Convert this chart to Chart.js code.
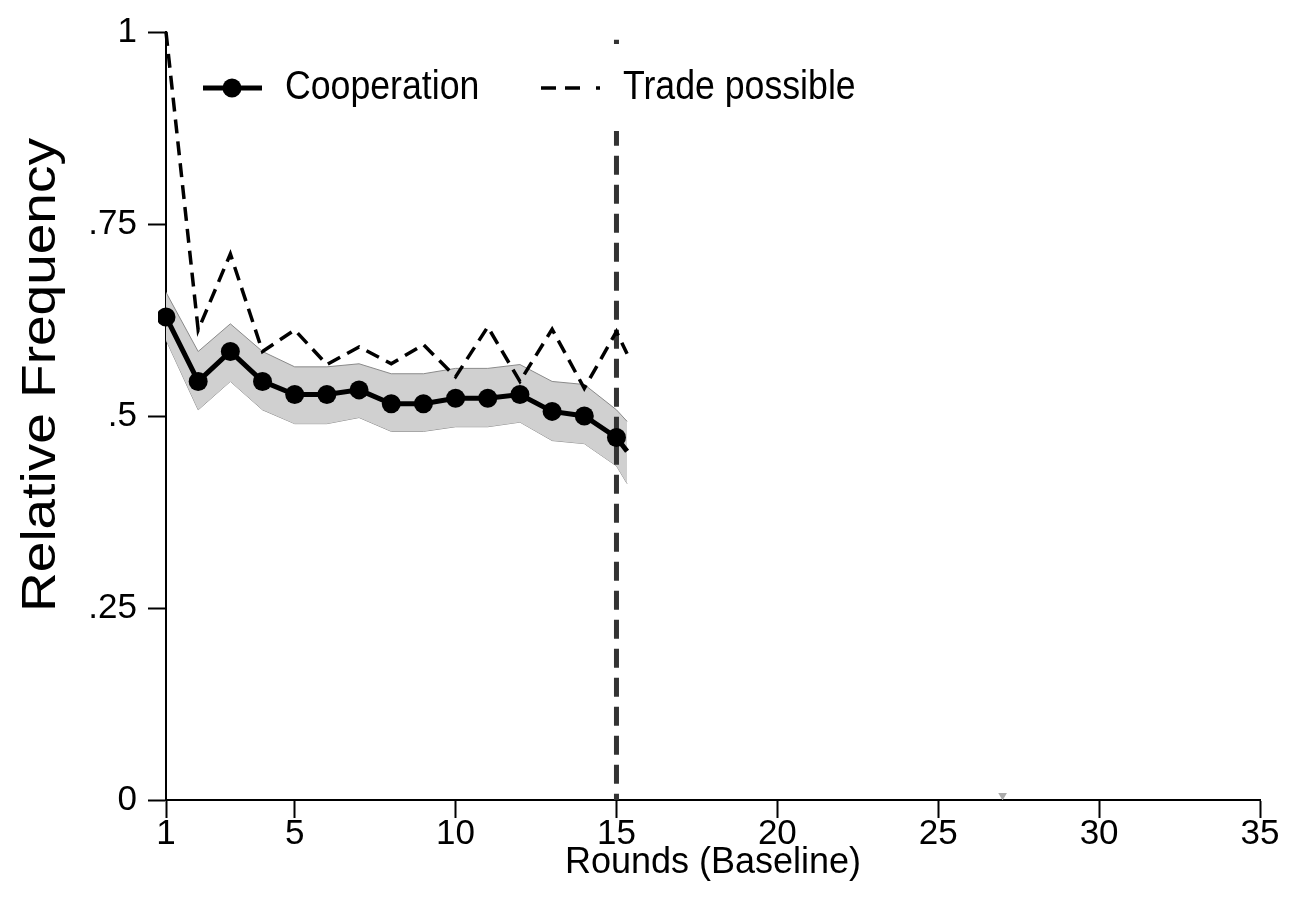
<!DOCTYPE html>
<html>
<head>
<meta charset="utf-8">
<script src="https://cdn.jsdelivr.net/npm/chart.js@4.4.1/dist/chart.umd.min.js"></script>
<style>
  html, body { margin: 0; padding: 0; background: #fff; }
  #wrap { width: 1289px; height: 915px; position: relative; }
</style>
</head>
<body>
<div id="wrap"><canvas id="chart" width="1289" height="915"></canvas></div>
<script>
// Datos
const rounds = [1, 2, 3, 4, 5, 6, 7, 8, 9, 10, 11, 12, 13, 14, 15, 15.33];
const cooperation = [0.629, 0.545, 0.584, 0.545, 0.528, 0.528, 0.534, 0.516, 0.516, 0.523, 0.523, 0.528, 0.506, 0.500, 0.472, 0.454];
const ciUpper = [0.661, 0.584, 0.620, 0.584, 0.564, 0.564, 0.568, 0.555, 0.555, 0.562, 0.562, 0.567, 0.545, 0.541, 0.508, 0.493];
const ciLower = [0.599, 0.508, 0.545, 0.508, 0.490, 0.490, 0.498, 0.480, 0.480, 0.486, 0.486, 0.492, 0.468, 0.464, 0.435, 0.412];
const tradePossible = [1.0, 0.612, 0.711, 0.584, 0.612, 0.567, 0.590, 0.568, 0.593, 0.551, 0.616, 0.545, 0.613, 0.536, 0.610, 0.581];
const cutoffRound = 15;
const cutoffRange = [0.99, 0];
const strayMark = [{ x: 27, y: 0.006 }];
const xTicks = [1, 5, 10, 15, 20, 25, 30, 35];
const yTicks = [0, 0.25, 0.5, 0.75, 1];
const yTickLabels = ['0', '.25', '.5', '.75', '1'];

const FONT = "'Liberation Sans', Arial, sans-serif";

function pts(values) {
    return rounds.map((r, i) => ({ x: r, y: values[i] }));
}

// Texto algo estrecho, como en la imagen original
function narrowText(ctx, text, x, y, size, squeeze) {
    ctx.save();
    ctx.translate(x, y);
    ctx.scale(squeeze, 1);
    ctx.font = size + 'px ' + FONT;
    ctx.fillText(text, 0, 0);
    ctx.restore();
}

// Leyenda y título del eje Y dibujados a mano
const legendPlugin = {
    id: 'customLegend',
    afterDatasetsDraw(chart) {
        const ctx = chart.ctx;
        ctx.save();
        ctx.fillStyle = '#fff';
        ctx.fillRect(190, 44, 690, 87);

        const y = 88;
        // Cooperation
        ctx.strokeStyle = '#000';
        ctx.lineWidth = 5;
        ctx.setLineDash([]);
        ctx.beginPath();
        ctx.moveTo(203, y);
        ctx.lineTo(262, y);
        ctx.stroke();
        ctx.fillStyle = '#000';
        ctx.beginPath();
        ctx.arc(232, y, 9.5, 0, Math.PI * 2);
        ctx.fill();

        // Trade possible
        ctx.lineWidth = 3.5;
        ctx.setLineDash([15, 9, 15, 16, 4, 100]);
        ctx.beginPath();
        ctx.moveTo(541, y);
        ctx.lineTo(600, y);
        ctx.stroke();
        ctx.setLineDash([]);

        ctx.textBaseline = 'middle';
        ctx.textAlign = 'left';
        narrowText(ctx, 'Cooperation', 285, y, 41, 0.87);
        narrowText(ctx, 'Trade possible', 623, y, 41, 0.87);

        // Relative Frequency
        ctx.save();
        ctx.translate(42, 375);
        ctx.rotate(-Math.PI / 2);
        ctx.scale(1, 0.86);
        ctx.textAlign = 'center';
        ctx.font = '55px ' + FONT;
        ctx.fillText('Relative Frequency', 0, 0);
        ctx.restore();

        ctx.restore();
    }
};

const ctx = document.getElementById('chart').getContext('2d');

new Chart(ctx, {
    type: 'line',
    data: {
        datasets: [
            {
                label: 'Cooperation',
                data: pts(cooperation),
                borderColor: '#000',
                backgroundColor: '#000',
                borderWidth: 5,
                pointRadius: rounds.map(r => Number.isInteger(r) ? 9.5 : 0),
                pointBorderWidth: 0,
                tension: 0,
                order: 0,
                clip: 8
            },
            {
                label: 'Trade possible',
                data: pts(tradePossible),
                borderColor: '#000',
                borderWidth: 3.5,
                borderDash: [14, 8],
                pointRadius: 0,
                tension: 0,
                order: 1,
                clip: 8
            },
            {
                label: 'cutoff',
                data: cutoffRange.map(v => ({ x: cutoffRound, y: v })),
                borderColor: '#333',
                borderWidth: 5,
                borderDash: [19, 10],
                pointRadius: 0,
                order: 2
            },
            {
                label: 'ci upper',
                data: pts(ciUpper),
                borderColor: '#8a8a8a',
                borderWidth: 1,
                backgroundColor: '#d0d0d0',
                fill: '+1',
                pointRadius: 0,
                tension: 0,
                order: 3
            },
            {
                label: 'ci lower',
                data: pts(ciLower),
                borderColor: '#8a8a8a',
                borderWidth: 1,
                pointRadius: 0,
                tension: 0,
                order: 4
            },
            {
                label: 'stray',
                data: strayMark,
                showLine: false,
                pointStyle: 'triangle',
                rotation: 180,
                pointRadius: 5,
                backgroundColor: '#aaa',
                borderWidth: 0,
                order: 5
            }
        ]
    },
    options: {
        responsive: false,
        animation: false,
        events: [],
        layout: {
            padding: { top: 29, right: 29, left: 0, bottom: 0 }
        },
        plugins: {
            legend: { display: false },
            tooltip: { enabled: false }
        },
        scales: {
            x: {
                type: 'linear',
                min: 1,
                max: 35,
                afterBuildTicks: scale => {
                    scale.ticks = xTicks.map(v => ({ value: v }));
                },
                afterFit: scale => { scale.height = 115; },
                ticks: {
                    color: '#000',
                    padding: -5,
                    maxRotation: 0,
                    autoSkip: false,
                    font: { family: FONT, size: 35 }
                },
                grid: {
                    drawOnChartArea: false,
                    drawTicks: true,
                    tickLength: 18,
                    tickWidth: 2,
                    tickColor: '#000'
                },
                border: { display: true, color: '#000', width: 2 },
                title: {
                    display: true,
                    text: 'Rounds (Baseline)',
                    color: '#000',
                    font: { family: FONT, size: 36 },
                    padding: { top: 0, bottom: 30 }
                }
            },
            y: {
                min: 0,
                max: 1,
                afterBuildTicks: scale => {
                    scale.ticks = yTicks.map(v => ({ value: v }));
                },
                afterFit: scale => { scale.width = 166; },
                ticks: {
                    color: '#000',
                    padding: 11,
                    autoSkip: false,
                    font: { family: FONT, size: 35 },
                    callback: value => yTickLabels[yTicks.indexOf(value)]
                },
                grid: {
                    drawOnChartArea: false,
                    drawTicks: true,
                    tickLength: 18,
                    tickWidth: 2,
                    tickColor: '#000'
                },
                border: { display: true, color: '#000', width: 2 }
            }
        }
    },
    plugins: [legendPlugin]
});
</script>
</body>
</html>
